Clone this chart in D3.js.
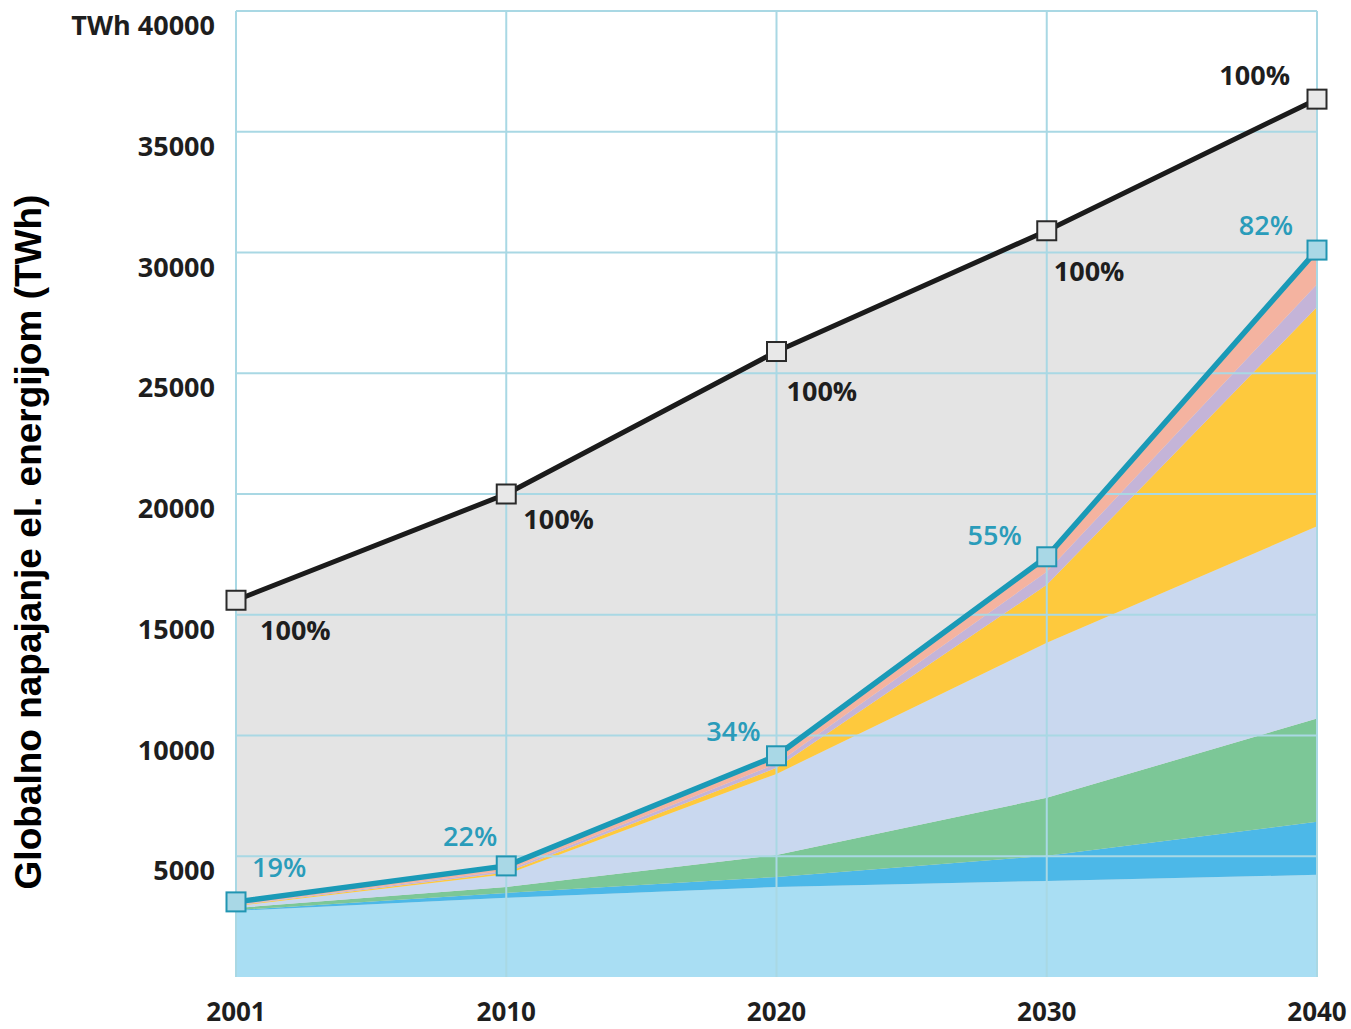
<!DOCTYPE html>
<html>
<head>
<meta charset="utf-8">
<script src="https://cdn.jsdelivr.net/npm/d3@7"></script>
<style>
  html, body { margin: 0; padding: 0; background: #ffffff; }
  svg { display: block; }
</style>
</head>
<body>
<svg id="chart" width="1351" height="1029"></svg>
<script>
// ---------------- DATA ----------------
const years = ["2001", "2010", "2020", "2030", "2040"];
const totalSupply = [15600, 20000, 25900, 30900, 36350];      // black line (100%)
const renewableTotal = [3110, 4600, 9160, 17400, 30100];      // teal line
const renewableShare = ["19%", "22%", "34%", "55%", "82%"];
const totalShare = ["100%", "100%", "100%", "100%", "100%"];
// stacked renewable components (bottom to top)
const hydro   = [2740, 3280, 3730, 3980, 4230];
const biomass = [30, 200, 410, 1040, 2200];
const wind    = [90, 250, 910, 2400, 4270];
const solarPV = [80, 520, 3360, 6420, 7960];
const solarTh = [20, 80, 250, 2400, 9080];
const geo     = [20, 70, 170, 540, 950];
const other   = [130, 200, 330, 620, 1410];
const yTicks = [5000, 10000, 15000, 20000, 25000, 30000, 35000, 40000];
const yTitle = "Globalno napajanje el. energijom (TWh)";

// ---------------- LAYOUT / STYLE ----------------
const layerKeys = ["hydro", "biomass", "wind", "solarPV", "solarTh", "geo", "other"];
const layerColors = {
  hydro: "#a9def3", biomass: "#4cb8e8", wind: "#7cc797", solarPV: "#c9d8ef",
  solarTh: "#fec93d", geo: "#c4b4d8", other: "#f4b3a0"
};
const layerArrays = { hydro, biomass, wind, solarPV, solarTh, geo, other };
const blackLabelOffsets = [[24, 40, "start"], [17, 35, "start"], [10, 49, "start"], [7, 50, "start"], [-27, -14, "end"]];
const tealLabelOffsets = [[16, -25, "start"], [-9, -20, "end"], [-16, -15, "end"], [-25, -12, "end"], [-24, -15, "end"]];

const svg = d3.select("#chart");
const x = d3.scalePoint().domain(years).range([236, 1317]);
const y = d3.scaleLinear().domain([0, 40000]).range([977, 11]);
const FONT = "'Open Sans', 'DejaVu Sans', sans-serif";

const rows = years.map((yr, i) => {
  const r = { year: yr };
  layerKeys.forEach(k => r[k] = layerArrays[k][i]);
  return r;
});

// gray total area
const totalRows = years.map((yr, i) => ({ year: yr, v: totalSupply[i] }));
svg.append("path")
  .datum(totalRows)
  .attr("fill", "#e4e4e4")
  .attr("d", d3.area().x(d => x(d.year)).y0(y(0)).y1(d => y(d.v)));

// stacked areas
const stack = d3.stack().keys(layerKeys)(rows);
const area = d3.area()
  .x(d => x(d.data.year))
  .y0(d => y(d[0]))
  .y1(d => y(d[1]));
svg.append("g").selectAll("path")
  .data(stack)
  .join("path")
  .attr("fill", d => layerColors[d.key])
  .attr("d", area);

// gridlines
const grid = svg.append("g").attr("stroke", "#a9d8e4").attr("stroke-width", 2);
grid.selectAll("line.h")
  .data(yTicks)
  .join("line")
  .attr("class", "h")
  .attr("x1", x(years[0])).attr("x2", x(years[years.length - 1]))
  .attr("y1", d => y(d)).attr("y2", d => y(d));
grid.selectAll("line.v")
  .data(years)
  .join("line")
  .attr("class", "v")
  .attr("x1", d => x(d)).attr("x2", d => x(d))
  .attr("y1", y(40000)).attr("y2", y(0));

// lines
const lineGen = d3.line().x((d, i) => x(years[i])).y(d => y(d));
svg.append("path")
  .datum(renewableTotal)
  .attr("fill", "none")
  .attr("stroke", "#1a9ab7")
  .attr("stroke-width", 5.5)
  .attr("d", lineGen);
svg.append("path")
  .datum(totalSupply)
  .attr("fill", "none")
  .attr("stroke", "#1b1b1b")
  .attr("stroke-width", 5)
  .attr("d", lineGen);

// markers
const M = 19;
svg.append("g").selectAll("rect")
  .data(renewableTotal)
  .join("rect")
  .attr("x", (d, i) => x(years[i]) - M / 2)
  .attr("y", d => y(d) - M / 2)
  .attr("width", M).attr("height", M)
  .attr("fill", "#a9d8e6")
  .attr("stroke", "#2195b2")
  .attr("stroke-width", 2);
svg.append("g").selectAll("rect")
  .data(totalSupply)
  .join("rect")
  .attr("x", (d, i) => x(years[i]) - M / 2)
  .attr("y", d => y(d) - M / 2)
  .attr("width", M).attr("height", M)
  .attr("fill", "#e8e8e8")
  .attr("stroke", "#2a2a2a")
  .attr("stroke-width", 2);

// percentage labels
svg.append("g").selectAll("text")
  .data(totalSupply)
  .join("text")
  .attr("x", (d, i) => x(years[i]) + blackLabelOffsets[i][0])
  .attr("y", (d, i) => y(d) + blackLabelOffsets[i][1])
  .attr("text-anchor", (d, i) => blackLabelOffsets[i][2])
  .attr("font-family", FONT).attr("font-size", 27).attr("font-weight", 700)
  .attr("fill", "#1e1e1e")
  .text((d, i) => totalShare[i]);
svg.append("g").selectAll("text")
  .data(renewableTotal)
  .join("text")
  .attr("x", (d, i) => x(years[i]) + tealLabelOffsets[i][0])
  .attr("y", (d, i) => y(d) + tealLabelOffsets[i][1])
  .attr("text-anchor", (d, i) => tealLabelOffsets[i][2])
  .attr("font-family", FONT).attr("font-size", 27).attr("font-weight", 600)
  .attr("fill", "#2a9cba")
  .text((d, i) => renewableShare[i]);

// y tick labels
svg.append("g").selectAll("text")
  .data(yTicks)
  .join("text")
  .attr("x", 215)
  .attr("y", d => y(d) + 24)
  .attr("text-anchor", "end")
  .attr("font-family", FONT).attr("font-size", 27).attr("font-weight", 700)
  .attr("fill", "#1e1e1e")
  .text(d => (d === 40000 ? "TWh " : "") + d);

// x tick labels
svg.append("g").selectAll("text")
  .data(years)
  .join("text")
  .attr("x", d => x(d))
  .attr("y", 1021)
  .attr("text-anchor", "middle")
  .attr("font-family", FONT).attr("font-size", 26).attr("font-weight", 700)
  .attr("fill", "#1e1e1e")
  .text(d => d);

// y axis title
svg.append("text")
  .attr("transform", "translate(41,542) rotate(-90)")
  .attr("text-anchor", "middle")
  .attr("font-family", "'Liberation Sans', Arial, sans-serif")
  .attr("font-size", 37).attr("font-weight", 700)
  .attr("fill", "#000")
  .text(yTitle);
</script>
</body>
</html>
